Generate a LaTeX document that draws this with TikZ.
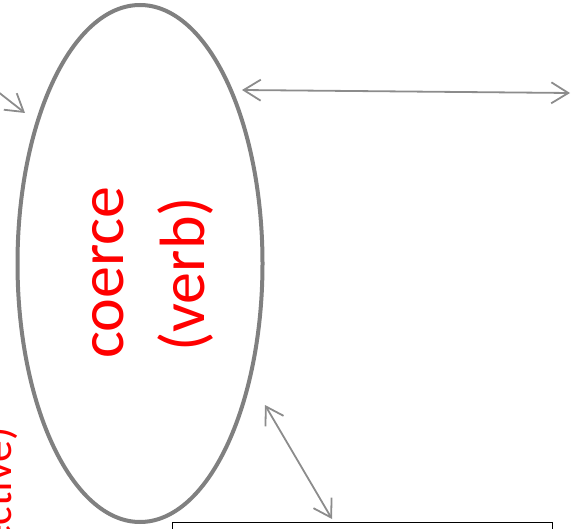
\documentclass[tikz,border=0pt]{standalone}
\usepackage{fontspec}
\setmainfont{Carlito}
\usetikzlibrary{shapes.geometric,arrows.meta}
\definecolor{ringgray}{RGB}{128,128,128}
\definecolor{arrgray}{RGB}{140,140,140}
\begin{document}
\begin{tikzpicture}[x=1pt,y=-1pt,
  ring/.style={ellipse,draw=ringgray,line width=4pt,inner sep=0pt,
    minimum width=245pt,minimum height=517pt},
  conn/.style={draw=arrgray,line width=1.8pt,
    >={Straight Barb[length=17pt,width=21pt]}},
  redlabel/.style={text=red,rotate=90,inner sep=0pt,
    font=\fontsize{64}{81}\selectfont},
  boxnode/.style={draw=black,line width=1.4pt,rectangle,inner sep=0pt,
    minimum width=380pt,minimum height=100pt,anchor=north west}]
\useasboundingbox (0,0) rectangle (572,529);
\clip (0,0) rectangle (572,529);
% ellipse
\node[ring] (e) at (140,263.5) {};
% labels
\node[redlabel,anchor=base] (coerce) at (123,272.5) {coerce};
\node[redlabel,anchor=base] (verb) at (204,274.5) {(verb)};
\node[redlabel,anchor=base east,font=\fontsize{44}{53}\selectfont] (adj) at (11,427) {(adjective)};
% box
\node[boxnode] (box) at (172,522) {};
% connector end points
\coordinate (tlstart) at (-12,84);
\coordinate (tltip) at (25,113);
\coordinate (hleft) at (242,90);
\coordinate (hright) at (570,93);
\coordinate (lowup) at (265,405);
\coordinate (lowdown) at (332,519);
% connectors
\draw[conn,->] (tlstart) -- (tltip);
\draw[conn,<->] (hleft) -- (hright);
\draw[conn,<->] (lowup) -- (lowdown);
\end{tikzpicture}
\end{document}
